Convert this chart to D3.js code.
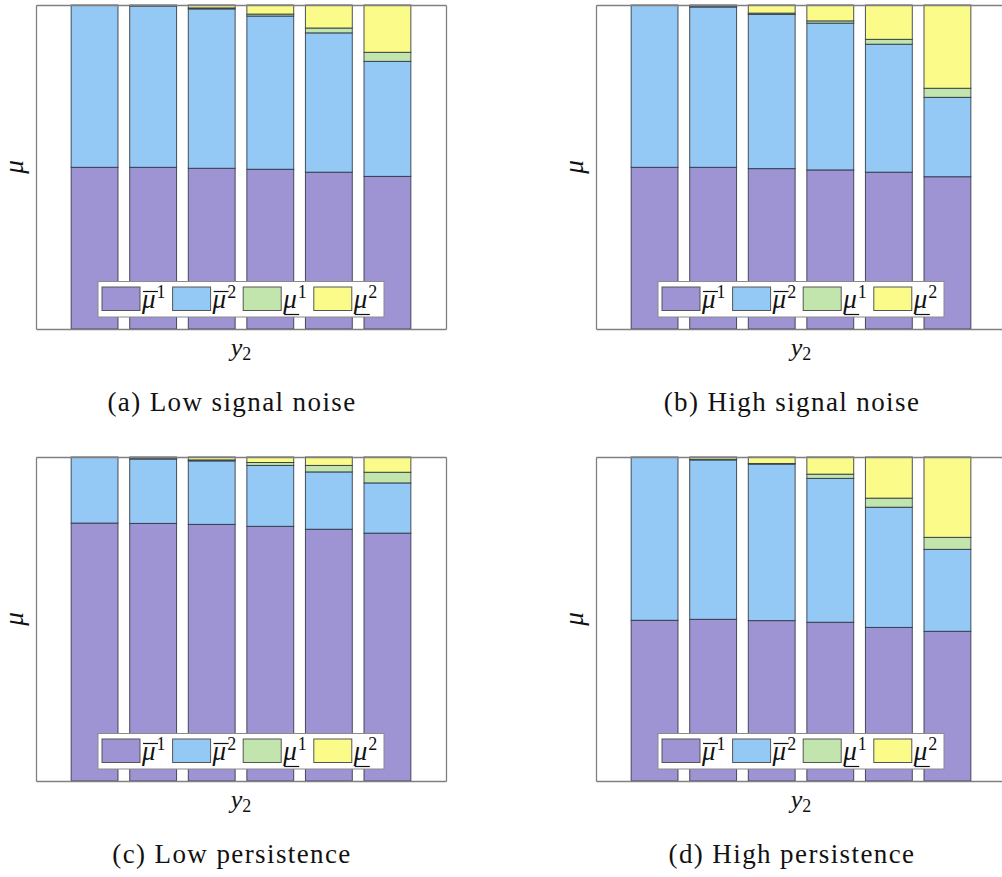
<!DOCTYPE html>
<html>
<head>
<meta charset="utf-8">
<script src="https://cdn.jsdelivr.net/npm/d3@7"></script>
<style>
  html, body { margin: 0; padding: 0; background: #fff; }
  svg { display: block; }
  .serif { font-family: "Liberation Serif", "DejaVu Serif", serif; fill: #111; }
</style>
</head>
<body>
<svg id="chart" width="1002" height="877"></svg>
<script>
// y2 positions along the horizontal axis (no tick labels are shown)
const positions = [1, 2, 3, 4, 5, 6];

// Series order in each stack: upper mu^1, upper mu^2, lower mu^1, lower mu^2
const seriesKeys = ["upper1", "upper2", "lower1", "lower2"];
const seriesColors = ["#9e94d4", "#94c9f5", "#c2e5ad", "#fbfb8a"];

// (a) Low signal noise
const lowNoiseUpper1 = [0.499, 0.499, 0.496, 0.493, 0.484, 0.471];
const lowNoiseUpper2 = [0.501, 0.498, 0.492, 0.473, 0.430, 0.355];
const lowNoiseLower1 = [0.000, 0.001, 0.003, 0.006, 0.015, 0.028];
const lowNoiseLower2 = [0.000, 0.002, 0.009, 0.028, 0.071, 0.146];

// (b) High signal noise
const highNoiseUpper1 = [0.499, 0.499, 0.495, 0.491, 0.484, 0.470];
const highNoiseUpper2 = [0.501, 0.495, 0.476, 0.453, 0.395, 0.245];
const highNoiseLower1 = [0.000, 0.001, 0.004, 0.007, 0.015, 0.028];
const highNoiseLower2 = [0.000, 0.005, 0.025, 0.049, 0.106, 0.257];

// (c) Low persistence
const lowPersUpper1 = [0.796, 0.795, 0.792, 0.786, 0.777, 0.765];
const lowPersUpper2 = [0.204, 0.199, 0.196, 0.188, 0.177, 0.155];
const lowPersLower1 = [0.000, 0.001, 0.003, 0.009, 0.020, 0.033];
const lowPersLower2 = [0.000, 0.005, 0.009, 0.017, 0.026, 0.047];

// (d) High persistence
const highPersUpper1 = [0.496, 0.499, 0.495, 0.490, 0.474, 0.462];
const highPersUpper2 = [0.504, 0.492, 0.483, 0.444, 0.371, 0.253];
const highPersLower1 = [0.000, 0.002, 0.002, 0.013, 0.028, 0.037];
const highPersLower2 = [0.000, 0.007, 0.020, 0.053, 0.127, 0.248];

const captions = ["(a) Low signal noise", "(b) High signal noise",
                  "(c) Low persistence", "(d) High persistence"];

const panels = [
  { left: 36,  top: 5,   series: [lowNoiseUpper1, lowNoiseUpper2, lowNoiseLower1, lowNoiseLower2], caption: captions[0] },
  { left: 596, top: 5,   series: [highNoiseUpper1, highNoiseUpper2, highNoiseLower1, highNoiseLower2], caption: captions[1] },
  { left: 36,  top: 457, series: [lowPersUpper1, lowPersUpper2, lowPersLower1, lowPersLower2], caption: captions[2] },
  { left: 596, top: 457, series: [highPersUpper1, highPersUpper2, highPersLower1, highPersLower2], caption: captions[3] }
];

const plotW = 410, plotH = 324;
const svg = d3.select("#chart");

// mu symbol with an over- or under-bar and a superscript index
function muLabel(g, x, baseline, bar, index) {
  const t = g.append("text").attr("class", "serif")
    .attr("x", x).attr("y", baseline)
    .style("font-size", "27px");
  t.append("tspan").style("font-style", "italic").text("\u03bc");
  t.append("tspan").attr("dx", 1).attr("dy", -10).style("font-size", "18px").text(index);
  const yLine = bar === "over" ? baseline - 16 : baseline + 7;
  g.append("line")
    .attr("x1", x + 1).attr("x2", x + 16)
    .attr("y1", yLine).attr("y2", yLine)
    .attr("stroke", "#111").attr("stroke-width", 1.2);
}

panels.forEach(p => {
  const x = d3.scaleLinear().domain([0, 7]).range([p.left, p.left + plotW]);
  const y = d3.scaleLinear().domain([0, 1]).range([p.top + plotH, p.top]);
  const barW = 0.8 * (x(1) - x(0));

  const rows = positions.map((pos, i) => {
    const r = { pos };
    seriesKeys.forEach((k, j) => { r[k] = p.series[j][i]; });
    return r;
  });
  const stacked = d3.stack().keys(seriesKeys)(rows);

  const g = svg.append("g");

  // stacked bars
  g.selectAll("g.layer").data(stacked).join("g")
    .attr("class", "layer")
    .attr("fill", (d, i) => seriesColors[i])
    .selectAll("rect").data(d => d).join("rect")
    .attr("x", d => x(d.data.pos) - barW / 2)
    .attr("width", barW)
    .attr("y", d => y(d[1]))
    .attr("height", d => Math.max(0, y(d[0]) - y(d[1])))
    .attr("stroke", "#2b3440")
    .attr("stroke-opacity", 0.85)
    .attr("stroke-width", 1);

  // axes box without ticks
  const axisStyle = sel => {
    sel.selectAll(".domain").attr("stroke", "#808080").attr("stroke-width", 1.3);
  };
  g.append("g").attr("transform", `translate(0,${p.top + plotH})`)
    .call(d3.axisBottom(x).tickValues([]).tickSizeOuter(0)).call(axisStyle);
  g.append("g").attr("transform", `translate(0,${p.top})`)
    .call(d3.axisTop(x).tickValues([]).tickSizeOuter(0)).call(axisStyle);
  g.append("g").attr("transform", `translate(${p.left},0)`)
    .call(d3.axisLeft(y).tickValues([]).tickSizeOuter(0)).call(axisStyle);
  g.append("g").attr("transform", `translate(${p.left + plotW},0)`)
    .call(d3.axisRight(y).tickValues([]).tickSizeOuter(0)).call(axisStyle);

  // legend at the bottom centre of the axes
  const cx = p.left + plotW / 2;
  const legW = 286, legH = 35.5;
  const legX = cx - legW / 2, legY = p.top + plotH - 12 - legH;
  const lg = g.append("g");
  lg.append("rect").attr("x", legX).attr("y", legY)
    .attr("width", legW).attr("height", legH)
    .attr("fill", "#fff").attr("stroke", "#8a8a8a").attr("stroke-width", 1);
  const entryBars = ["over", "over", "under", "under"];
  const entryIdx = ["1", "2", "1", "2"];
  seriesKeys.forEach((k, i) => {
    const ex = legX + 4 + i * 70.6;
    lg.append("rect").attr("x", ex).attr("y", legY + 5.5)
      .attr("width", 38).attr("height", 23.5)
      .attr("fill", seriesColors[i])
      .attr("stroke", "#555").attr("stroke-width", 1);
    muLabel(lg, ex + 40, legY + 26, entryBars[i], entryIdx[i]);
  });

  // y label
  g.append("text").attr("class", "serif")
    .attr("transform", `translate(${p.left - 13},${p.top + plotH / 2}) rotate(-90)`)
    .attr("text-anchor", "middle")
    .style("font-size", "27px").style("font-style", "italic")
    .text("\u03bc");

  // x label
  const xl = g.append("text").attr("class", "serif")
    .attr("x", cx).attr("y", p.top + plotH + 27)
    .attr("text-anchor", "middle")
    .style("font-size", "26px");
  xl.append("tspan").style("font-style", "italic").text("y");
  xl.append("tspan").attr("dy", 4).style("font-size", "18px").text("2");

  // caption
  g.append("text").attr("class", "serif")
    .attr("x", cx - 9).attr("y", p.top + plotH + 82)
    .attr("text-anchor", "middle")
    .style("font-size", "27px")
    .style("letter-spacing", "1.4px")
    .text(p.caption);
});
</script>
</body>
</html>
